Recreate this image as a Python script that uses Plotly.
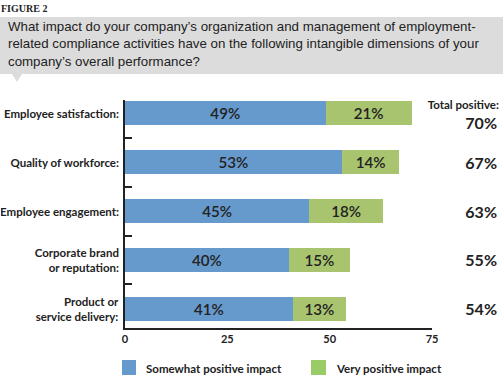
import plotly.graph_objects as go

categories = ["Employee satisfaction:", "Quality of workforce:", "Employee engagement:",
              "Corporate brand<br>or reputation:", "Product or<br>service delivery:"]
somewhat = [49, 53, 45, 40, 41]
very = [21, 14, 18, 15, 13]
totals = [70, 67, 63, 55, 54]
x_ticks = [0, 25, 50, 75]

BLUE = "#6699CC"
GREEN = "#A9C46F"
FONT = "Lato, Roboto, sans-serif"
INK = "#222222"

W, H = 503, 385
L, R, T, B = 125, 71, 100, 57
PW, PH = W - L - R, H - T - B

def px(x):
    return (x - L) / PW

def py(y):
    return (H - B - y) / PH

ypos = list(range(len(categories) - 1, -1, -1))

fig = go.Figure()
for vals, col, name in [(somewhat, BLUE, "Somewhat positive impact"), (very, GREEN, "Very positive impact")]:
    fig.add_trace(go.Bar(
        y=ypos, x=vals, orientation="h", marker=dict(color=col, line=dict(width=0)),
        width=0.49, text=[f"{v}%" for v in vals], textposition="inside",
        insidetextanchor="middle", textfont=dict(family=FONT, size=16, color=INK, weight=600),
        name=name, showlegend=False, hoverinfo="skip"))

annotations = []
for cat, yv in zip(categories, ypos):
    annotations.append(dict(x=px(120), xref="paper", y=yv, yref="y", text=f"<b>{cat}</b>",
                            showarrow=False, xanchor="right", yanchor="middle", align="right",
                            width=118, borderpad=0,
                            font=dict(family=FONT, size=11.5, color=INK)))
for i, (tot, yv) in enumerate(zip(totals, ypos)):
    annotations.append(dict(x=px(498), xref="paper", y=yv, yref="y", text=f"<b>{tot}%</b>",
                            showarrow=False, xanchor="right", yanchor="middle", align="right",
                            width=60, borderpad=0, yshift=-9 if i == 0 else 0,
                            font=dict(family=FONT, size=16, color=INK)))
annotations.append(dict(x=px(500), xref="paper", y=py(104), yref="paper",
                        text="<b>Total positive:</b>", showarrow=False, xanchor="right",
                        align="right", width=90, borderpad=0,
                        yanchor="middle", font=dict(family=FONT, size=11.5, color=INK)))
annotations.append(dict(x=px(-1), xref="paper", y=py(8), yref="paper", text="<b>FIGURE 2</b>",
                        showarrow=False, xanchor="left", yanchor="middle",
                        font=dict(family="Liberation Serif, DejaVu Serif, serif", size=10, color=INK)))
annotations.append(dict(x=px(6), xref="paper", y=py(44), yref="paper",
                        text="What impact do your company’s organization and management of employment-<br>"
                             "related compliance activities have on the following intangible dimensions of your<br>"
                             "company’s overall performance?",
                        showarrow=False, xanchor="left", yanchor="middle", align="left",
                        font=dict(family="Liberation Sans, Arial, sans-serif", size=13.3, color=INK)))
annotations.append(dict(x=px(144), xref="paper", y=py(368), yref="paper",
                        text="<b>Somewhat positive impact</b>", showarrow=False, xanchor="left",
                        yanchor="middle", font=dict(family=FONT, size=11.5, color=INK)))
annotations.append(dict(x=px(334), xref="paper", y=py(368), yref="paper",
                        text="<b>Very positive impact</b>", showarrow=False, xanchor="left",
                        yanchor="middle", font=dict(family=FONT, size=11.5, color=INK)))

shapes = [
    dict(type="rect", xref="paper", yref="paper", x0=px(0), x1=px(503), y0=py(74), y1=py(17),
         fillcolor="#DCDCDC", line=dict(width=0), layer="below"),
    dict(type="path", xref="paper", yref="paper",
         path=f"M {px(12)},{py(74)} L {px(22)},{py(74)} L {px(17)},{py(82)} Z",
         fillcolor="#DCDCDC", line=dict(width=0), layer="below"),
    dict(type="rect", xref="paper", yref="paper", x0=px(122), x1=px(136), y0=py(375), y1=py(360),
         fillcolor=BLUE, line=dict(width=0)),
    dict(type="rect", xref="paper", yref="paper", x0=px(311), x1=px(326), y0=py(375), y1=py(360),
         fillcolor="#99CC66", line=dict(width=0)),
]

fig.update_layout(
    width=W, height=H, margin=dict(l=L, r=R, t=T, b=B, autoexpand=False),
    barmode="stack", plot_bgcolor="white", paper_bgcolor="white",
    annotations=annotations, shapes=shapes,
    xaxis=dict(range=[0, 75], tickvals=x_ticks, ticktext=[f"<b>{v}</b>" for v in x_ticks],
               showgrid=False, zeroline=False, showline=True, linecolor=INK, linewidth=1.5,
               ticks="", tickfont=dict(family=FONT, size=11, color=INK), fixedrange=True),
    yaxis=dict(range=[-0.39, 4.27], tickvals=[0.5, 1.5, 2.5, 3.5], showticklabels=False,
               showgrid=False, zeroline=False, showline=True, linecolor=INK, linewidth=1.5,
               ticks="inside", ticklen=7, tickwidth=1.5, tickcolor=INK, fixedrange=True),
)

fig.write_html("out.html", config={"displayModeBar": False},
               post_script="document.body.style.margin='0px';document.body.style.overflow='hidden';")
